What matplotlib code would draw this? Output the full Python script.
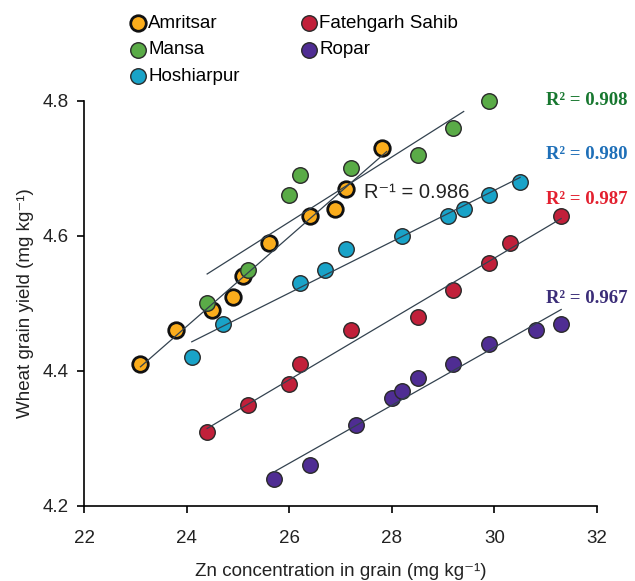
import matplotlib
matplotlib.use('Agg')
import matplotlib.pyplot as plt
import numpy as np

plt.rcParams['font.family'] = ['Liberation Sans', 'DejaVu Sans']

# Datos
amritsar_x = [23.1, 23.8, 24.5, 24.9, 25.1, 25.6, 26.4, 26.9, 27.1, 27.8]
amritsar_y = [4.41, 4.46, 4.49, 4.51, 4.54, 4.59, 4.63, 4.64, 4.67, 4.73]

mansa_x = [24.4, 25.2, 26.0, 26.2, 27.2, 28.5, 29.2, 29.9]
mansa_y = [4.50, 4.55, 4.66, 4.69, 4.70, 4.72, 4.76, 4.80]

hoshiarpur_x = [24.1, 24.7, 26.2, 26.7, 27.1, 28.2, 29.1, 29.4, 29.9, 30.5]
hoshiarpur_y = [4.42, 4.47, 4.53, 4.55, 4.58, 4.60, 4.63, 4.64, 4.66, 4.68]

fatehgarh_x = [24.4, 25.2, 26.0, 26.2, 27.2, 28.5, 29.2, 29.9, 30.3, 31.3]
fatehgarh_y = [4.31, 4.35, 4.38, 4.41, 4.46, 4.48, 4.52, 4.56, 4.59, 4.63]

ropar_x = [25.7, 26.4, 27.3, 28.0, 28.2, 28.5, 29.2, 29.9, 30.8, 31.3]
ropar_y = [4.24, 4.26, 4.32, 4.36, 4.37, 4.39, 4.41, 4.44, 4.46, 4.47]

names = ['Amritsar', 'Mansa', 'Hoshiarpur', 'Fatehgarh Sahib', 'Ropar']
xs = [amritsar_x, mansa_x, hoshiarpur_x, fatehgarh_x, ropar_x]
ys = [amritsar_y, mansa_y, hoshiarpur_y, fatehgarh_y, ropar_y]

# rango de x en que se dibuja cada recta
line_x0 = [23.1, 24.4, 24.1, 24.4, 25.7]
line_x1 = [27.9, 29.4, 30.5, 31.3, 31.3]

r2_labels = ['R² = 0.908', 'R² = 0.980', 'R² = 0.987', 'R² = 0.967']
r2_y = [4.80, 4.721, 4.654, 4.508]
r2_colors = ['#17772f', '#1e6fb8', '#e3202f', '#3b2d78']

colors = ['#fbad1c', '#5aab47', '#19a3c8', '#c1203a', '#4f2d93']
edges = ['#111111', '#2a2a2a', '#2a2a2a', '#2a2a2a', '#2a2a2a']
edge_w = [2.0, 1.0, 1.0, 1.0, 1.0]

fig = plt.figure(figsize=(6.35, 5.81), dpi=100)
ax = fig.add_axes([0.1323, 0.1291, 0.808, 0.6971])

handles = []
for i in range(5):
    h = ax.scatter(xs[i], ys[i], s=125, color=colors[i], edgecolors=edges[i],
                   linewidths=edge_w[i], zorder=3, clip_on=False, label=names[i])
    handles.append(h)
    m, b = np.polyfit(xs[i], ys[i], 1)
    lx = np.array([line_x0[i], line_x1[i]])
    ax.plot(lx, m * lx + b, color='#33424f', lw=0.9, zorder=4)

for lab, yy, c in zip(r2_labels, r2_y, r2_colors):
    ax.text(31.8, yy, lab, color=c, fontsize=13.5, fontweight='bold',
            family='Liberation Serif', ha='center', va='center', clip_on=False)

ax.text(27.45, 4.665, 'R⁻¹ = 0.986', color='#222222', fontsize=14.5,
        ha='left', va='center')

ax.set_xlim(22, 32)
ax.set_ylim(4.2, 4.8)
ax.set_xticks([22, 24, 26, 28, 30, 32])
ax.set_yticks([4.2, 4.4, 4.6, 4.8])
ax.set_yticklabels(['4.2', '4.4', '4.6', '4.8'])
ax.spines['top'].set_visible(False)
ax.spines['right'].set_visible(False)
for s in ['left', 'bottom']:
    ax.spines[s].set_linewidth(1.2)
ax.tick_params(direction='out', length=5, width=1.2, labelsize=13.5,
               labelcolor='#222222')
ax.tick_params(axis='x', pad=12)
ax.tick_params(axis='y', pad=6)

ax.set_xlabel('Zn concentration in grain (mg kg⁻¹)', fontsize=13.5,
              color='#222222', labelpad=12)
ax.set_ylabel('Wheat grain yield (mg kg⁻¹)', fontsize=13.5,
              color='#222222', labelpad=6)

fig.legend(handles=handles, loc='upper left', bbox_to_anchor=(0.183, 0.997),
           ncol=2, frameon=False, fontsize=13.5, handletextpad=0.1,
           handlelength=0.9, columnspacing=3.25, labelspacing=0.5,
           borderaxespad=0.3)

fig.savefig('out.png', dpi=100)
